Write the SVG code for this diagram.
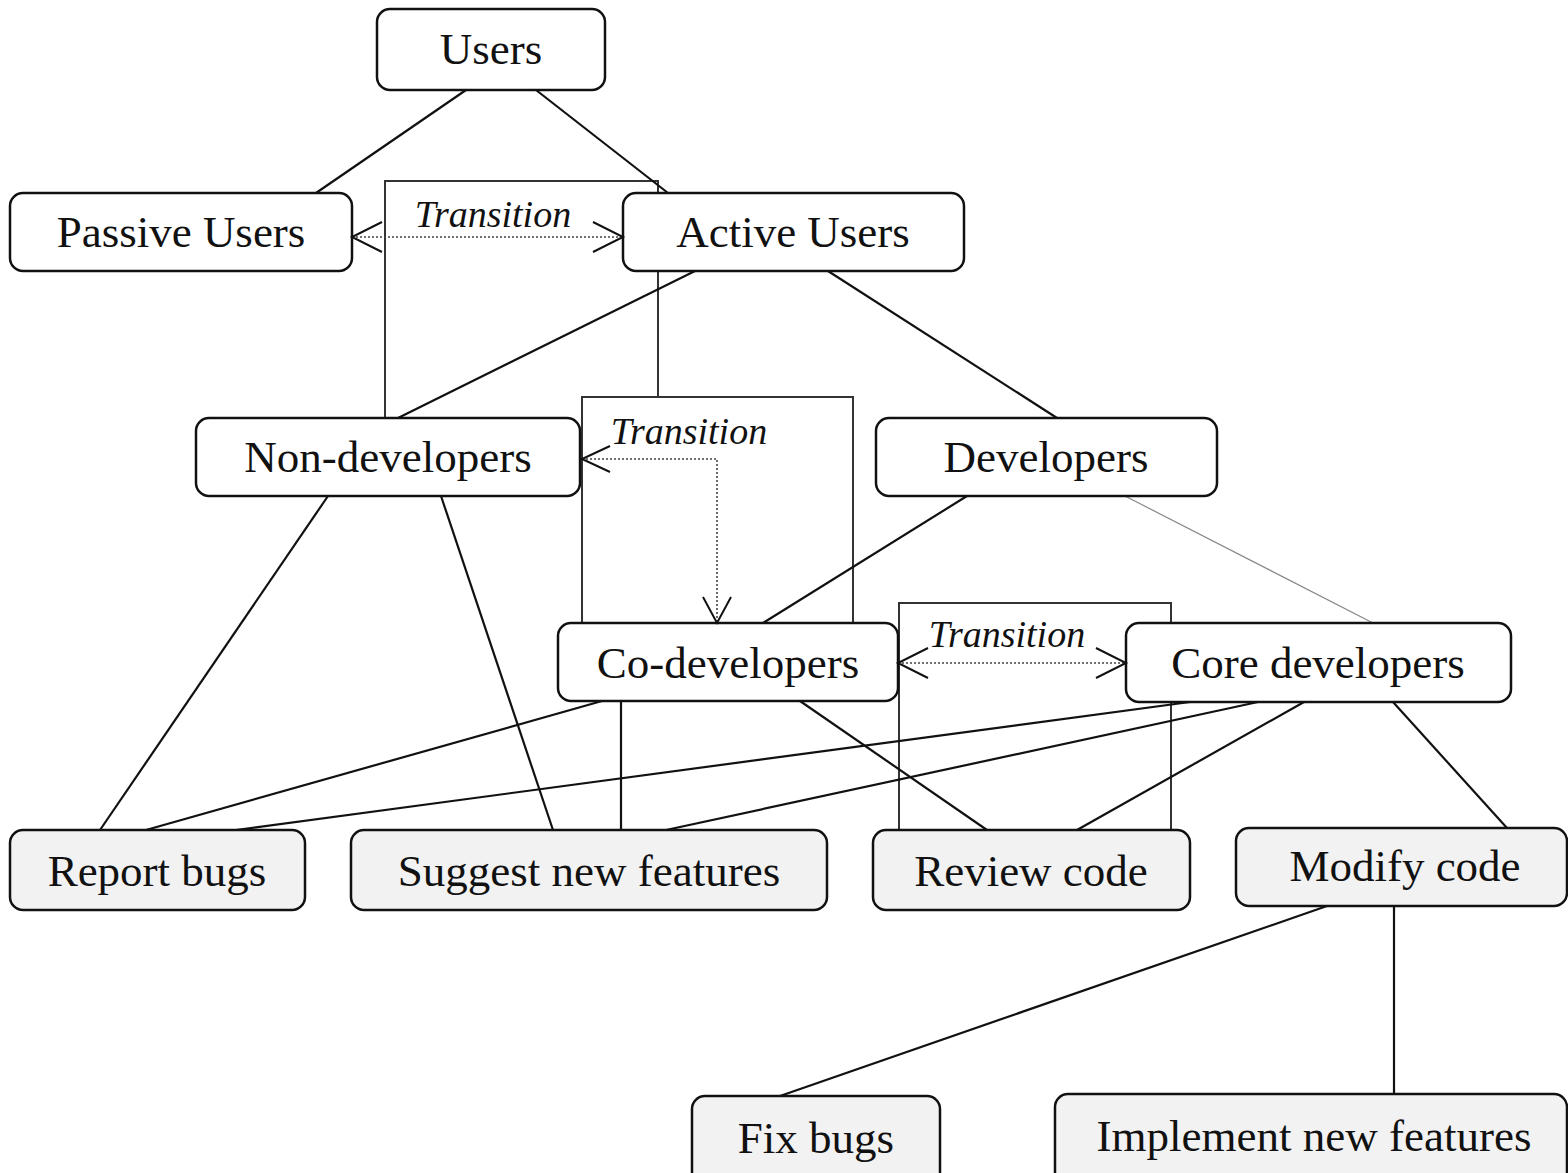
<svg xmlns="http://www.w3.org/2000/svg" width="1568" height="1173" viewBox="0 0 1568 1173">
<style>
.node rect{fill:#fff;stroke:#111;stroke-width:2.5}
.act rect{fill:#f2f2f2}
.node text{font-family:"Liberation Serif","Times New Roman",serif;font-size:45px;fill:#111;text-anchor:middle}
.frame{fill:none;stroke:#333;stroke-width:2}
.conn line{stroke:#111;stroke-width:2.2}
.conn line.thin{stroke:#888;stroke-width:1.2}
.tr{fill:none;stroke:#444;stroke-width:1.6;stroke-dasharray:2 2}
.head{fill:none;stroke:#111;stroke-width:2}
.lbl{font-family:"Liberation Serif","Times New Roman",serif;font-style:italic;font-size:38px;fill:#111;text-anchor:middle}
</style>
<rect width="1568" height="1173" fill="#fff"/>
<g id="frames">
<path class="frame" d="M385,418 V181 H658 V397"/>
<path class="frame" d="M582,623 V397 H853 V623"/>
<path class="frame" d="M899,830 V603 H1171 V830"/>
</g>
<g id="connectors" class="conn">
<line x1="466" y1="90" x2="316" y2="193"/>
<line x1="536" y1="90" x2="668" y2="193"/>
<line x1="695" y1="271" x2="398" y2="418"/>
<line x1="828" y1="271" x2="1057" y2="418"/>
<line x1="328" y1="496" x2="100" y2="830"/>
<line x1="441" y1="496" x2="553" y2="830"/>
<line x1="967" y1="496" x2="763" y2="623"/>
<line class="thin" x1="1125" y1="496" x2="1373" y2="623"/>
<line x1="602" y1="701" x2="146" y2="830"/>
<line x1="621" y1="701" x2="621" y2="830"/>
<line x1="800" y1="701" x2="987" y2="830"/>
<line x1="1190" y1="702" x2="236" y2="830"/>
<line x1="1258" y1="702" x2="666" y2="830"/>
<line x1="1304" y1="702" x2="1077" y2="830"/>
<line x1="1393" y1="702" x2="1507" y2="828"/>
<line x1="1327" y1="906" x2="780" y2="1096"/>
<line x1="1394" y1="906" x2="1394" y2="1094"/>
</g>
<g id="users" class="node"><rect x="377" y="9" width="228" height="81" rx="13"/><text x="491" y="64">Users</text></g>
<g id="passive-users" class="node"><rect x="10" y="193" width="342" height="78" rx="13"/><text x="181" y="247">Passive Users</text></g>
<g id="active-users" class="node"><rect x="623" y="193" width="341" height="78" rx="13"/><text x="793" y="247">Active Users</text></g>
<g id="non-developers" class="node"><rect x="196" y="418" width="384" height="78" rx="13"/><text x="388" y="472">Non-developers</text></g>
<g id="developers" class="node"><rect x="876" y="418" width="341" height="78" rx="13"/><text x="1046" y="472">Developers</text></g>
<g id="co-developers" class="node"><rect x="558" y="623" width="340" height="78" rx="13"/><text x="728" y="678">Co-developers</text></g>
<g id="core-developers" class="node"><rect x="1126" y="623" width="385" height="79" rx="13"/><text x="1318" y="678">Core developers</text></g>
<g id="report-bugs" class="node act"><rect x="10" y="830" width="295" height="80" rx="13"/><text x="157" y="886">Report bugs</text></g>
<g id="suggest-new-features" class="node act"><rect x="351" y="830" width="476" height="80" rx="13"/><text x="589" y="886">Suggest new features</text></g>
<g id="review-code" class="node act"><rect x="873" y="830" width="317" height="80" rx="13"/><text x="1031" y="886">Review code</text></g>
<g id="modify-code" class="node act"><rect x="1236" y="828" width="331" height="78" rx="13"/><text x="1405" y="881">Modify code</text></g>
<g id="fix-bugs" class="node act"><rect x="692" y="1096" width="248" height="90" rx="13"/><text x="816" y="1153">Fix bugs</text></g>
<g id="implement-new-features" class="node act"><rect x="1055" y="1094" width="512" height="92" rx="13"/><text x="1314" y="1151">Implement new features</text></g>
<g id="transitions">
<line class="tr" x1="352" y1="237" x2="623" y2="237"/>
<path class="head" d="M382,222 L352,237 L382,252 M593,222 L623,237 L593,252"/>
<text class="lbl" x="493" y="227">Transition</text>
<path class="tr" d="M582,459 H717 V623"/>
<path class="head" d="M610,446 L582,459 L610,472 M703,597 L717,623 L731,597"/>
<text class="lbl" x="689" y="444">Transition</text>
<line class="tr" x1="898" y1="663" x2="1126" y2="663"/>
<path class="head" d="M928,648 L898,663 L928,678 M1096,648 L1126,663 L1096,678"/>
<text class="lbl" x="1007" y="647">Transition</text>
</g>
</svg>
